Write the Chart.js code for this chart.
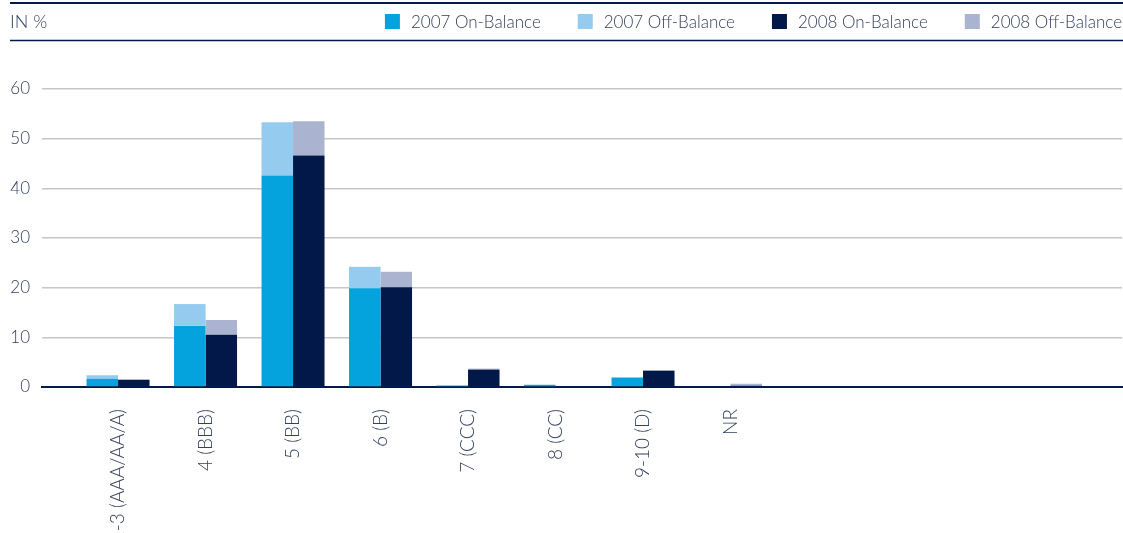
<!DOCTYPE html>
<html>
<head>
<meta charset="utf-8">
<script src="https://cdn.jsdelivr.net/npm/chart.js@4"></script>
<style>
  html, body { margin: 0; padding: 0; background: #ffffff; }
  #wrap { position: relative; width: 1123px; height: 533px; }
</style>
</head>
<body>
<div id="wrap"><canvas id="c" width="1123" height="533"></canvas></div>
<script>
const categories = ["1-3 (AAA/AA/A)", "4 (BBB)", "5 (BB)", "6 (B)", "7 (CCC)", "8 (CC)", "9-10 (D)", "NR"];
const on2007  = [1.67, 12.3, 42.6, 19.9, 0.3, 0.45, 1.9, 0];
const off2007 = [0.68, 4.4, 10.7, 4.3, 0, 0, 0, 0];
const on2008  = [1.47, 10.5, 46.6, 20.1, 3.5, 0, 3.3, 0.25];
const off2008 = [0, 3.0, 6.9, 3.1, 0.2, 0, 0, 0.4];
const seriesNames = ["2007 On-Balance", "2007 Off-Balance", "2008 On-Balance", "2008 Off-Balance"];
const yTicks = [0, 10, 20, 30, 40, 50, 60];
const unitLabel = "IN %";

const FONT = "Lato, 'Open Sans', sans-serif";
const TEXT = "#34405f";
const NAVY = "#021a4a";
const colors = ["#05a3de", "#95cbee", "#011849", "#aab3cf"];

const toPts = arr => arr.map((v, i) => ({ x: i, y: v }));

const headerPlugin = {
  id: 'header',
  afterDraw(chart) {
    const ctx = chart.ctx;
    ctx.save();
    ctx.strokeStyle = NAVY;
    ctx.lineWidth = 2;
    ctx.beginPath(); ctx.moveTo(10, 3); ctx.lineTo(1123, 3); ctx.stroke();
    ctx.lineWidth = 1.5;
    ctx.beginPath(); ctx.moveTo(10, 40.5); ctx.lineTo(1123, 40.5); ctx.stroke();
    ctx.fillStyle = TEXT;
    ctx.textBaseline = 'middle';
    ctx.textAlign = 'left';
    ctx.font = "300 18px " + FONT;
    ctx.fillText(unitLabel, 10, 22.5);
    // legend, right aligned
    ctx.font = "300 17px " + FONT;
    const ds = chart.data.datasets;
    let x = 1122;
    const items = [];
    for (let i = ds.length - 1; i >= 0; i--) {
      const w = ctx.measureText(ds[i].label).width;
      const tx = x - w;
      const bx = tx - 11 - 15;
      items.push({ label: ds[i].label, color: ds[i].backgroundColor, tx, bx });
      x = bx - 37;
    }
    items.forEach(it => {
      ctx.fillStyle = it.color;
      ctx.fillRect(it.bx, 14, 15, 15);
      ctx.fillStyle = TEXT;
      ctx.fillText(it.label, it.tx, 22.5);
    });
    ctx.restore();
  }
};

new Chart(document.getElementById('c'), {
  type: 'bar',
  data: {
    datasets: [
      { label: seriesNames[0], data: toPts(on2007),  backgroundColor: colors[0], stack: '2007' },
      { label: seriesNames[1], data: toPts(off2007), backgroundColor: colors[1], stack: '2007' },
      { label: seriesNames[2], data: toPts(on2008),  backgroundColor: colors[2], stack: '2008' },
      { label: seriesNames[3], data: toPts(off2008), backgroundColor: colors[3], stack: '2008' }
    ]
  },
  options: {
    responsive: false,
    animation: false,
    devicePixelRatio: 1,
    layout: { padding: { top: 89, left: 0, right: 1, bottom: 0 } },
    categoryPercentage: 0.72,
    barPercentage: 1.0,
    plugins: {
      legend: { display: false },
      tooltip: { enabled: false }
    },
    scales: {
      x: {
        type: 'linear',
        offset: false,
        min: -0.869,
        max: 11.474,
        grid: { display: false, drawTicks: false, offset: false },
        border: { display: true, color: NAVY, width: 2 },
        afterBuildTicks: (scale) => { scale.ticks = categories.map((c, i) => ({ value: i })); },
        afterFit: (scale) => { scale.height = 146; },
        ticks: {
          autoSkip: false,
          minRotation: 90,
          maxRotation: 90,
          padding: 22,
          color: TEXT,
          font: { family: FONT, size: 19, weight: 300 },
          callback: (v) => categories[v] !== undefined ? categories[v] : ''
        }
      },
      y: {
        stacked: true,
        min: 0,
        max: 60,
        afterBuildTicks: (scale) => { scale.ticks = yTicks.map(v => ({ value: v })); },
        afterFit: (scale) => { scale.width = 42; },
        grid: { color: '#c6c6c6', lineWidth: 1.5, drawTicks: false },
        border: { display: false },
        ticks: {
          padding: 12,
          color: TEXT,
          font: { family: FONT, size: 17, weight: 300 }
        }
      }
    }
  },
  plugins: [headerPlugin]
});
</script>
</body>
</html>
